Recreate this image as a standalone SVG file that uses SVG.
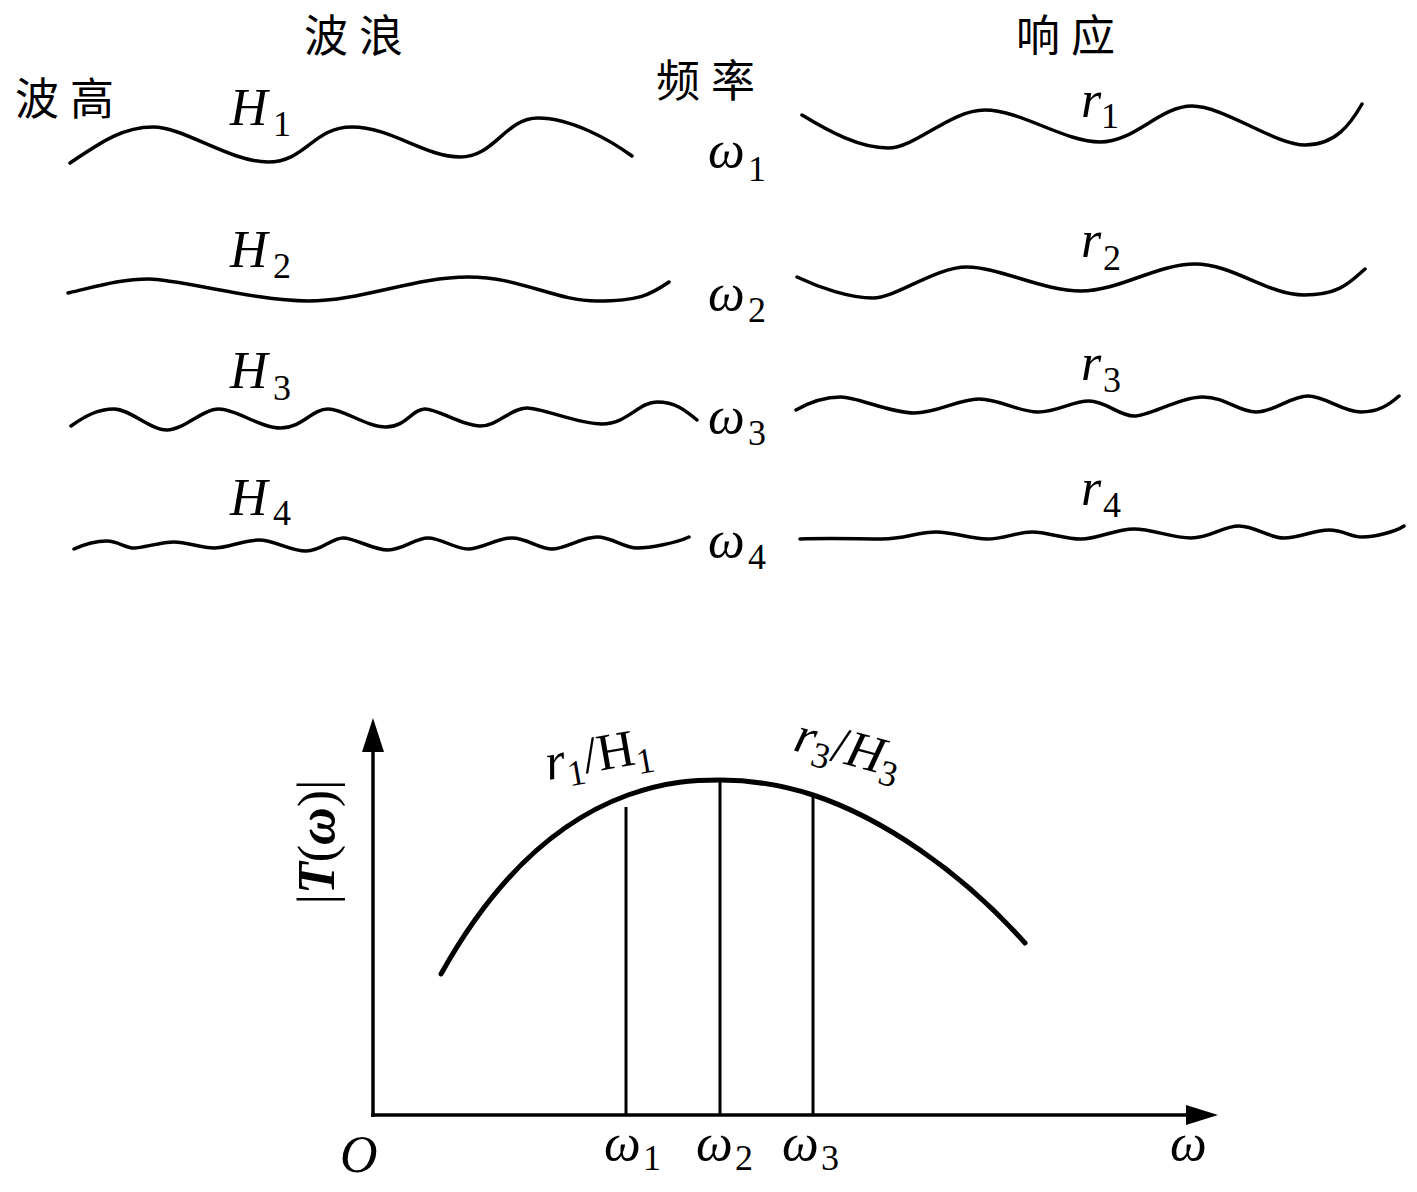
<svg xmlns="http://www.w3.org/2000/svg" width="1417" height="1192" viewBox="0 0 1417 1192">
<style>
.w{fill:none;stroke:#000;stroke-width:3.5;stroke-linecap:round;stroke-linejoin:round}
.ax{fill:none;stroke:#000;stroke-width:3.5}
.vl{fill:none;stroke:#000;stroke-width:3}
.cv{fill:none;stroke:#000;stroke-width:5;stroke-linecap:round}
.cn{font-family:"Noto Sans CJK SC","Noto Sans CJK JP",sans-serif;font-size:44px;letter-spacing:11px;fill:#000}
.m{font-family:"Liberation Serif","Times New Roman",serif;font-size:52px;fill:#000}
.i{font-style:italic}
.s{font-size:36px;font-style:normal}
</style>
<rect width="1417" height="1192" fill="#fff"/>
<g id="headers">
<text class="cn" x="304" y="52">波浪</text>
<text class="cn" x="15" y="115">波高</text>
<text class="cn" x="656" y="97">频率</text>
<text class="cn" x="1016" y="52">响应</text>
</g>
<g id="waves-H">
<g id="H1">
<path class="w" d="M70,163 C100,143 122,127 153,127 S230,162 268,162 S313,127 352,127 S425,157 460,157 S505,118 538,118 S610,140 632,156"/>
<text class="m" x="230" y="125"><tspan class="i">H</tspan><tspan class="s" x="273" y="136">1</tspan></text>
</g>
<g id="H2">
<path class="w" d="M68,293 C95,287 120,279 149,279 S255,301 308,301 S415,277 468,277 S555,301 597,301 S650,295 669,282"/>
<text class="m" x="230" y="267"><tspan class="i">H</tspan><tspan class="s" x="273" y="278">2</tspan></text>
</g>
<g id="H3">
<path class="w" d="M71,426 C85,416 98,409 114,409 S150,430 167,430 S202,409 219,409 S260,428 281,428 S312,409 328,409 S366,427 386,427 S412,409 425,409 S462,426 480,426 S511,408 527,408 S577,424 602,424 S639,402 657,402 S685,410 697,420"/>
<text class="m" x="230" y="388"><tspan class="i">H</tspan><tspan class="s" x="273" y="400">3</tspan></text>
</g>
<g id="H4">
<path class="w" d="M74,549 C85,544 96,541 107,541 S125,548 134,548 S161,542 174,542 S201,548 214,548 S244,540 259,540 S290,551 306,551 S331,538 343,538 S373,550 388,550 S415,538 428,538 S455,549 468,549 S497,538 512,538 S539,549 552,549 S582,537 597,537 S624,548 637,548 S676,543 689,537"/>
<text class="m" x="230" y="515"><tspan class="i">H</tspan><tspan class="s" x="273" y="525">4</tspan></text>
</g>
</g>
<g id="freqs">
<text class="m i" x="708" y="167">ω<tspan class="s" x="748" y="181">1</tspan></text>
<text class="m i" x="708" y="310">ω<tspan class="s" x="748" y="322">2</tspan></text>
<text class="m i" x="708" y="433">ω<tspan class="s" x="748" y="445">3</tspan></text>
<text class="m i" x="708" y="557">ω<tspan class="s" x="748" y="569">4</tspan></text>
</g>
<g id="waves-r">
<g id="r1">
<path class="w" d="M802,115 C830,132 860,148 888,148 S950,110 985,110 S1065,142 1100,142 S1160,106 1192,106 S1275,145 1305,145 S1350,125 1362,104"/>
<text class="m i" x="1081" y="117">r<tspan class="s" x="1101" y="128">1</tspan></text>
</g>
<g id="r2">
<path class="w" d="M797,277 C820,288 850,298 873,298 S935,267 967,267 S1043,291 1081,291 S1157,264 1195,264 S1268,295 1304,295 S1350,282 1365,269"/>
<text class="m i" x="1081" y="257">r<tspan class="s" x="1103" y="270">2</tspan></text>
</g>
<g id="r3">
<path class="w" d="M796,410 C810,402 825,397 841,397 S890,413 914,413 S958,399 979,399 S1018,412 1038,412 S1072,401 1089,401 S1119,416 1134,416 S1180,397 1203,397 S1238,412 1256,412 S1291,396 1308,396 S1343,412 1361,412 S1390,404 1399,396"/>
<text class="m i" x="1081" y="380">r<tspan class="s" x="1103" y="392">3</tspan></text>
</g>
<g id="r4">
<path class="w" d="M800,539 C830,538 860,539 882,539 S918,532 936,532 S970,539 987,539 S1017,532 1032,532 S1065,539 1081,539 S1116,529 1134,529 S1172,538 1191,538 S1223,526 1239,526 S1269,538 1284,538 S1314,530 1329,530 S1350,537 1362,537 S1395,532 1404,526"/>
<text class="m i" x="1081" y="505">r<tspan class="s" x="1103" y="517">4</tspan></text>
</g>
</g>
<g id="chart">
<g id="axes">
<path class="ax" d="M373,1117 V748"/>
<path d="M373,718 L384,752 L362,752 Z" fill="#000"/>
<path class="ax" d="M371,1115 H1190"/>
<path d="M1218,1115 L1186,1105 L1186,1125 Z" fill="#000"/>
</g>
<g id="lines">
<path class="vl" d="M626,1115 V807"/>
<path class="vl" d="M720,1115 V780"/>
<path class="vl" d="M813,1115 V795"/>
</g>
<path id="curve" class="cv" d="M441,974 C485,895 545,825 628,795 C668,781 695,780 720,780 C750,780 785,786 813,795 C880,817 960,870 1025,943"/>
<text class="m" transform="translate(334,842) rotate(-90)" text-anchor="middle">|<tspan font-weight="bold" font-style="italic">T</tspan>(<tspan font-weight="bold" font-style="italic">ω</tspan>)|</text>
<text class="m" transform="translate(548,780) rotate(-10)"><tspan class="i">r</tspan><tspan class="s" dy="10">1</tspan><tspan dy="-10">/H</tspan><tspan class="s" dy="10">1</tspan></text>
<text class="m" transform="translate(792,750) rotate(15)"><tspan class="i">r</tspan><tspan class="s" dy="10">3</tspan><tspan dy="-10">/</tspan><tspan class="i">H</tspan><tspan class="s" dy="10">3</tspan></text>
<text class="m i" x="340" y="1172">O</text>
<text class="m i" x="604" y="1160">ω<tspan class="s" x="643" y="1170">1</tspan></text>
<text class="m i" x="696" y="1160">ω<tspan class="s" x="735" y="1170">2</tspan></text>
<text class="m i" x="782" y="1160">ω<tspan class="s" x="821" y="1170">3</tspan></text>
<text class="m i" x="1170" y="1160">ω</text>
</g>
</svg>
